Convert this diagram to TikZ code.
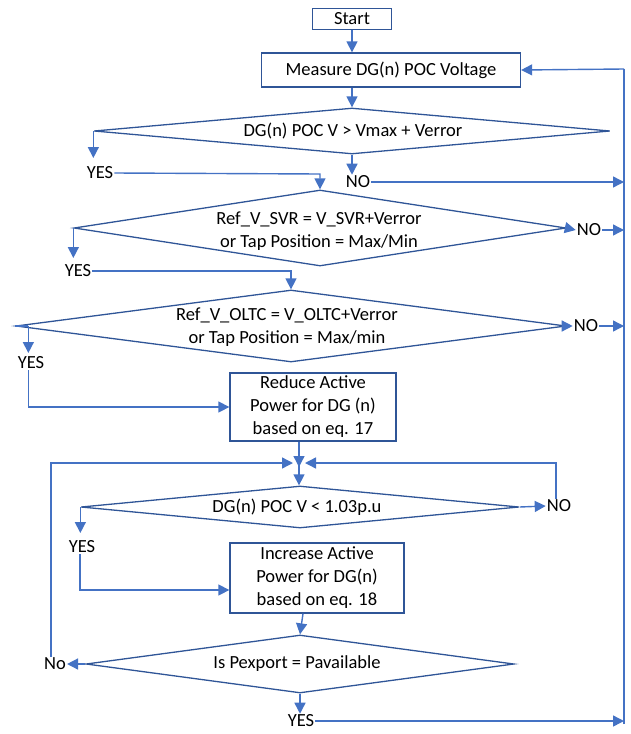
\documentclass[tikz,border=0pt]{standalone}
\usepackage{fontspec}
\setmainfont{Carlito}
\usetikzlibrary{shapes.geometric,arrows.meta}
\definecolor{ln}{HTML}{4472C4}
\definecolor{bx}{HTML}{2F5597}
\begin{document}
\begin{tikzpicture}[x=1pt,y=-1pt,
  font=\fontsize{18.5}{23}\selectfont,
  box/.style={draw=bx,line width=1.3pt,fill=white,inner sep=0pt,align=center},
  dia/.style={draw=bx,line width=1.3pt,diamond,inner sep=0pt,align=center},
  lbl/.style={inner sep=1pt},
  con/.style={draw=ln,line width=1.4pt},
  arr/.style={con,-{Triangle[length=11pt,width=11pt]}}]
\useasboundingbox (0,0) rectangle (630,734);
% nodes
\node[box,minimum width=79,minimum height=21] (start) at (352,19) {Start};
\node[box,minimum width=259,minimum height=34] (meas) at (391,70) {Measure DG(n) POC Voltage};
\node[dia,minimum width=516,minimum height=46,aspect=11] (d1) at (352,131) {};
\node at (353,131) {DG(n) POC V > Vmax + Verror};
\node[lbl] (yes1) at (100,173) {YES};
\node[lbl] (no1) at (358,182) {NO};
\node[dia,minimum width=492,minimum height=76,aspect=6.5] (d2) at (320,228) {};
\node[align=center] at (319,231) {Ref\_V\_SVR = V\_SVR+Verror\\or Tap Position = Max/Min};
\node[lbl] (no2) at (589,230) {NO};
\node[lbl] (yes2) at (78,271) {YES};
\node[dia,minimum width=550,minimum height=72,aspect=7.6] (d3) at (291,326) {};
\node[align=center] at (287,327) {Ref\_V\_OLTC = V\_OLTC+Verror\\or Tap Position = Max/min};
\node[lbl] (no3) at (586,326) {NO};
\node[lbl] (yes3) at (31,363) {YES};
\node[box,minimum width=166,minimum height=68] (red) at (313,407) {Reduce Active\\Power for DG (n)\\based on eq. 17};
\coordinate (J) at (299,463);
\node[dia,minimum width=438,minimum height=42,aspect=10.4] (d4) at (300,507) {};
\node at (297,507) {DG(n) POC V < 1.03p.u};
\node[lbl] (no4) at (559,506) {NO};
\node[lbl] (yes4) at (82,547) {YES};
\node[box,minimum width=174,minimum height=70] (inc) at (317,578) {Increase Active\\Power for DG(n)\\based on eq. 18};
\node[dia,minimum width=428,minimum height=58,aspect=7.4] (d5) at (300,664) {};
\node at (297,664) {Is Pexport = Pavailable};
\node[lbl] (no5) at (55,664) {No};
\node[lbl] (yes5) at (301,721) {YES};
\coordinate (R0) at (624,69);
\coordinate (R1) at (624,724);
% connectors
\draw[arr] (start.south) -- (start.south |- meas.north);
\draw[arr] (meas.south -| d1.north) -- (d1.north);
\draw[arr] (d1.west) -- ++(0,27);
\draw[arr] (yes1.east) -- (320,174) -- (d2.north);
\draw[arr] (d1.south) -- (d1.south |- no1.north);
\draw[arr] (no1.east) -- (no1.east -| R0);
\draw[con] (R1) -- (R0);
\draw[arr] (R0) -- (meas.east);
\draw[arr] (d2.east) -- (no2.west);
\draw[arr] (no2.east) -- (no2.east -| R0);
\draw[arr] (d2.west) -- ++(0,30);
\draw[arr] (yes2.east) -- (yes2.east -| d3.north) -- (d3.north);
\draw[arr] (d3.east) -- (no3.west);
\draw[arr] (no3.east) -- (no3.east -| R0);
\draw[con] (d3.west) -- ++(13,0) coordinate (d3y);
\draw[arr] (d3y) -- ++(0,27);
\draw[arr] (yes3.south -| d3y) -- (d3y |- red.west) -- (red.west);
\draw[arr] (red.south -| J) -- ([yshift=-4]J);
\draw[arr] (J) -- (J |- d4.north);
\draw[arr] (d4.east) -- (no4.west);
\draw[arr] (no4.north -| 556,0) -- (556,463) -- ([xshift=6]J);
\draw[arr] (d4.west) -- ++(0,26);
\draw[arr] (yes4.south -| 80,0) -- (80,590) -- (inc.west |- 0,590);
\draw[arr] (inc.south -| 303,0) -- (d5.north);
\draw[arr] (d5.west) -- (no5.east);
\draw[arr] (no5.north -| 51,0) -- (51,463) -- ([xshift=-6]J);
\draw[arr] (d5.south) -- (yes5.north -| d5.south);
\draw[arr] (yes5.east) -- (yes5.east -| R1);
\end{tikzpicture}
\end{document}
